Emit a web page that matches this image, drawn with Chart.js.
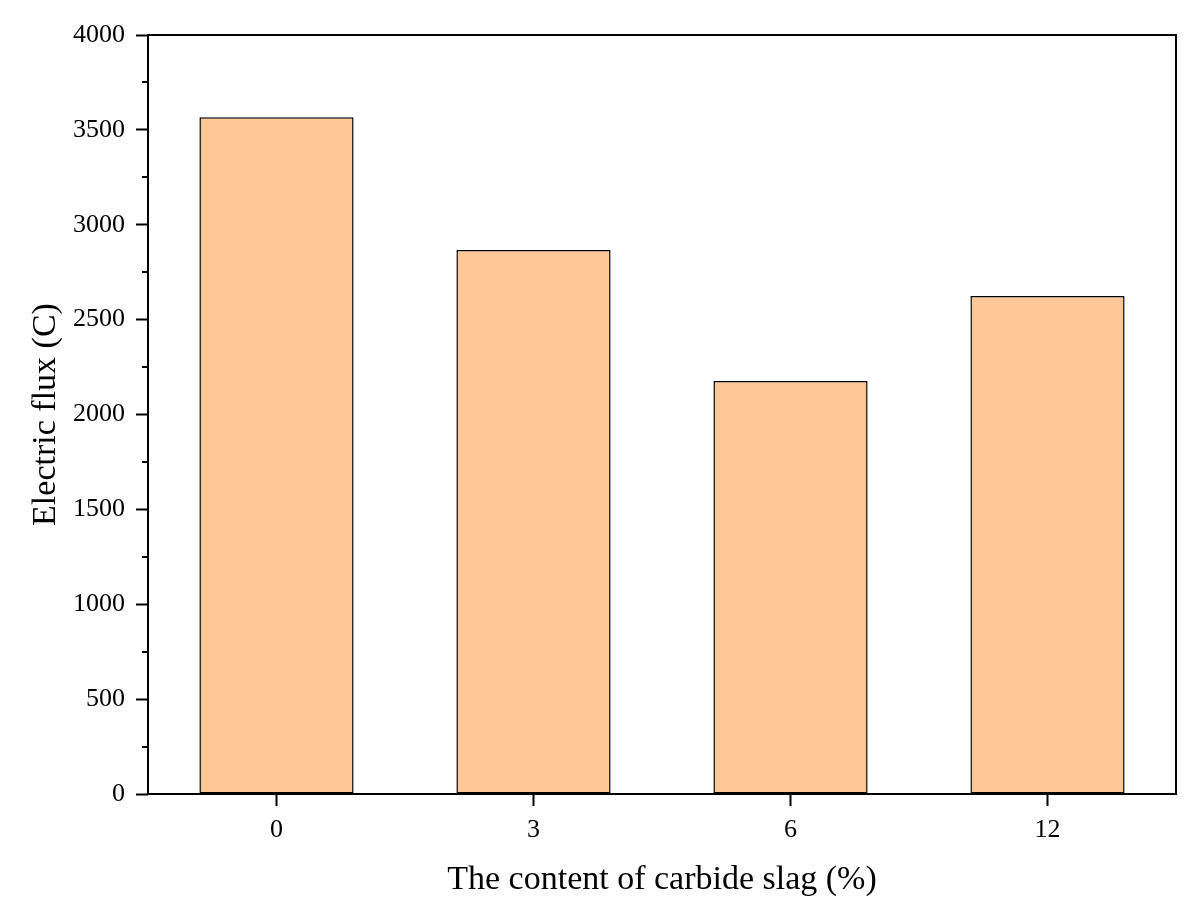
<!DOCTYPE html>
<html>
    <head>
        <meta charset="utf-8">
        <title>Electric flux</title>
        <script src="https://cdn.jsdelivr.net/npm/chart.js@4.4.0/dist/chart.umd.min.js"></script>
        <style>
            html, body { margin: 0; padding: 0; background: #fff; }
        </style>
    </head>
    <body>
        <canvas id="flux-chart" width="1200" height="918"></canvas>
        <script>
            var categories = ['0', '3', '6', '12'];
            var flux_values = [3566, 2867, 2177, 2625];
            var y_major = [0, 500, 1000, 1500, 2000, 2500, 3000, 3500, 4000];
            var y_minor = [250, 750, 1250, 1750, 2250, 2750, 3250, 3750];

            var serif = "'Liberation Serif', 'Times New Roman', serif";

            // frame + minor ticks on the left axis
            var framePlugin = {
                id: 'frame',
                afterDraw: function(chart) {
                    var ctx = chart.ctx, a = chart.chartArea, ys = chart.scales.y;
                    ctx.save();
                    ctx.strokeStyle = '#000';
                    ctx.lineWidth = 2;
                    ctx.strokeRect(a.left, a.top, a.right - a.left, a.bottom - a.top);
                    ctx.beginPath();
                    for (var i = 0; i < y_minor.length; i++) {
                        var py = Math.round(ys.getPixelForValue(y_minor[i]));
                        ctx.moveTo(a.left - 6, py);
                        ctx.lineTo(a.left, py);
                    }
                    ctx.stroke();
                    ctx.restore();
                }
            };

            new Chart(document.getElementById('flux-chart'), {
                type: 'bar',
                data: {
                    labels: categories,
                    datasets: [{
                        data: flux_values,
                        backgroundColor: '#FDC896',
                        borderColor: '#000',
                        borderWidth: 1.5,
                        borderSkipped: false,
                        barPercentage: 0.6,
                        categoryPercentage: 1.0
                    }]
                },
                options: {
                    responsive: false,
                    animation: false,
                    layout: { padding: { top: 35, right: 24, left: 0, bottom: 0 } },
                    plugins: { legend: { display: false }, tooltip: { enabled: false } },
                    scales: {
                        x: {
                            grid: { drawOnChartArea: false, tickLength: 12, tickWidth: 2, tickColor: '#000', offset: false },
                            border: { display: false },
                            ticks: { color: '#000', padding: 9, font: { family: serif, size: 26 } },
                            title: { display: true, text: 'The content of carbide slag (%)', color: '#000',
                                     padding: { top: 0, bottom: 18 }, font: { family: serif, size: 34 } },
                            afterFit: function(s) { s.height = 124; }
                        },
                        y: {
                            min: 0,
                            max: 4000,
                            afterBuildTicks: function(s) { s.ticks = y_major.map(function(v) { return { value: v }; }); },
                            grid: { drawOnChartArea: false, tickLength: 12, tickWidth: 2, tickColor: '#000' },
                            border: { display: false },
                            ticks: { color: '#000', padding: 11, font: { family: serif, size: 26 },
                                     callback: function(v) { return String(v); } },
                            title: { display: true, text: 'Electric flux (C)', color: '#000',
                                     padding: { top: 26, bottom: 0 }, font: { family: serif, size: 34 } },
                            afterFit: function(s) { s.width = 148; }
                        }
                    }
                },
                plugins: [framePlugin]
            });
        </script>
    </body>
</html>
